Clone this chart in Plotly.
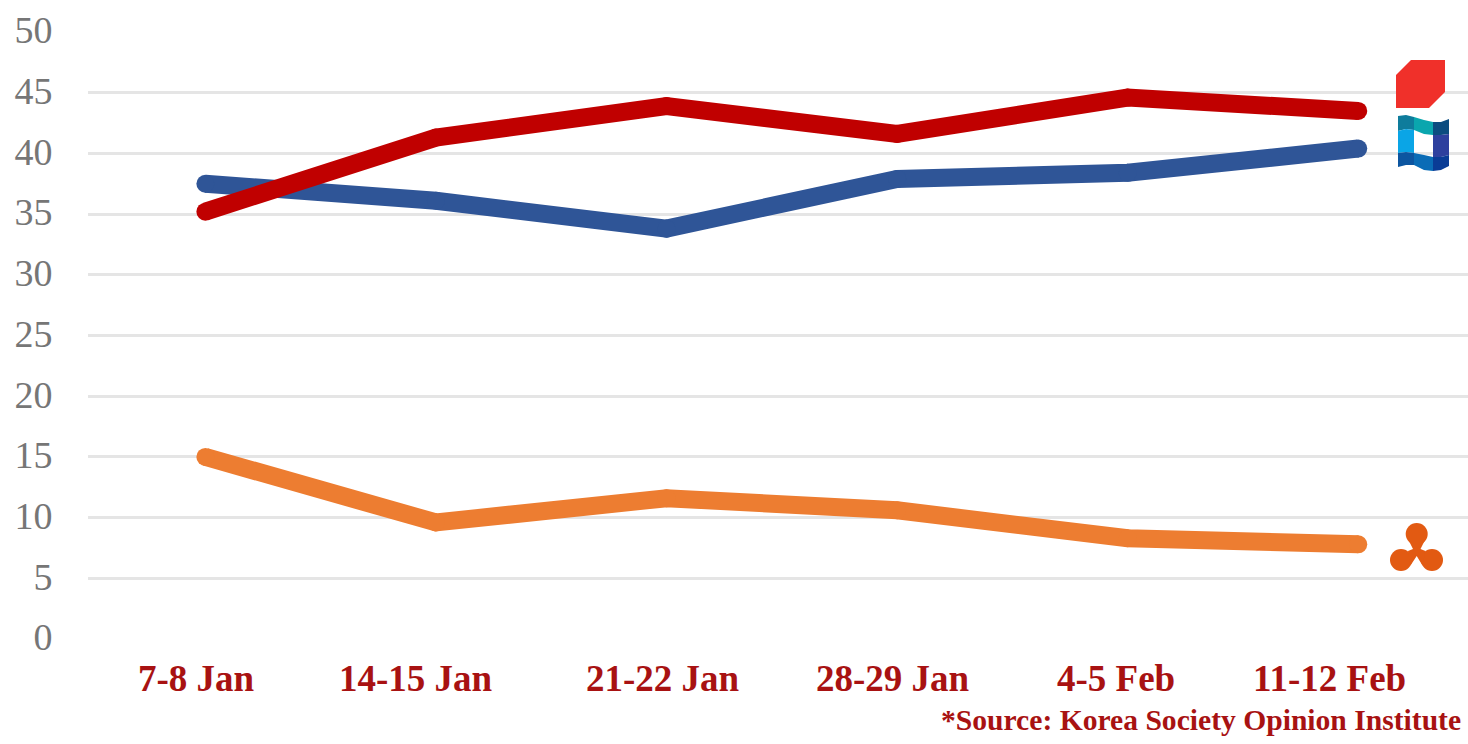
import plotly.graph_objects as go

categories = ["7-8 Jan", "14-15 Jan", "21-22 Jan", "28-29 Jan", "4-5 Feb", "11-12 Feb"]
red_values = [35.2, 41.3, 43.9, 41.6, 44.6, 43.5]
blue_values = [37.5, 36.1, 33.8, 37.9, 38.4, 40.4]
orange_values = [15.0, 9.6, 11.6, 10.6, 8.3, 7.8]
y_ticks = [0, 5, 10, 15, 20, 25, 30, 35, 40, 45, 50]
source_text = "*Source: Korea Society Opinion Institute"
label_centers_px = [196, 416, 663, 893, 1116, 1329]

W, H = 1468, 744
L, R, T, B = 88, 0, 32, 105
SERIF = "Liberation Serif"
LABEL = "#A81212"


def px(x):
    return (x - L) / (W - L - R)


def py(y):
    return 1 - (y - T) / (H - T - B)


def path(points, close=True):
    s = "M" + " L".join(f"{px(a):.5f},{py(b):.5f}" for a, b in points)
    return s + (" Z" if close else "")


def poly(points, color):
    return dict(type="path", xref="paper", yref="paper", path=path(points),
                fillcolor=color, line=dict(width=0), layer="above")


def circle(cx, cy, r, color):
    return dict(type="circle", xref="paper", yref="paper", x0=px(cx - r), x1=px(cx + r),
                y0=py(cy + r), y1=py(cy - r), fillcolor=color, line=dict(width=0), layer="above")


fig = go.Figure()
for vals, col in [(blue_values, "#2F5597"), (orange_values, "#ED7D31"), (red_values, "#C00000")]:
    fig.add_trace(go.Scatter(x=categories, y=vals, mode="lines+markers", showlegend=False,
                             line=dict(color=col, width=18),
                             marker=dict(color=col, size=18, line=dict(width=0)),
                             cliponaxis=False))

shapes = []
# red party logo
shapes.append(poly([(1411, 60), (1445, 60), (1445, 92), (1429, 108), (1396, 108), (1396, 75)], "#F0302A"))
# blue party logo
shapes += [
    poly([(1398, 116), (1406, 115), (1414, 117), (1414, 130), (1406, 129), (1398, 131)], "#0E7C9C"),
    poly([(1414, 117), (1424, 120), (1433, 122), (1433, 135), (1424, 134), (1414, 130)], "#0AA6AE"),
    poly([(1433, 122), (1441, 122), (1449, 119), (1449, 134), (1441, 135), (1433, 135)], "#0B4C80"),
    poly([(1398, 131), (1406, 129), (1414, 130), (1414, 153), (1406, 152), (1398, 153)], "#0AA5E6"),
    poly([(1433, 135), (1441, 135), (1449, 134), (1449, 155), (1441, 157), (1433, 157)], "#2E409E"),
    poly([(1398, 153), (1406, 152), (1414, 153), (1414, 165), (1406, 165), (1398, 167)], "#0C55A0"),
    poly([(1414, 153), (1424, 155), (1433, 157), (1433, 171), (1424, 170), (1414, 165)], "#0A6CB6"),
    poly([(1433, 157), (1441, 157), (1449, 155), (1449, 166), (1441, 170), (1433, 171)], "#0A3C96"),
]
# orange party logo
ORANGE_LOGO = "#E25A12"
shapes += [
    circle(1416.7, 534, 11, ORANGE_LOGO),
    circle(1401, 560, 11, ORANGE_LOGO),
    circle(1432, 560, 11, ORANGE_LOGO),
    poly([(1409, 541), (1413, 549), (1408, 551), (1410.5, 565.5), (1416.7, 556), (1422.5, 565.5),
          (1425.5, 551), (1420.5, 549), (1424.5, 541)], ORANGE_LOGO),
]

annotations = [
    dict(x=px(c), y=py(678), xref="paper", yref="paper", text=f"<b>{t}</b>", showarrow=False,
         xanchor="center", yanchor="middle", font=dict(family=SERIF, size=37, color=LABEL))
    for t, c in zip(categories, label_centers_px)
]
annotations.append(dict(x=px(1463), y=py(720), xref="paper", yref="paper", text=f"<b>{source_text}</b>",
                        showarrow=False, xanchor="right", yanchor="middle",
                        font=dict(family=SERIF, size=29.6, color=LABEL)))

fig.update_layout(
    width=W, height=H, margin=dict(l=L, r=R, t=T, b=B),
    paper_bgcolor="white", plot_bgcolor="white",
    shapes=shapes, annotations=annotations,
    xaxis=dict(type="category", categoryorder="array", categoryarray=categories,
               range=[-0.509, 5.476], showticklabels=False, showgrid=False, zeroline=False,
               showline=False, ticks=""),
    yaxis=dict(range=[0, 50], tickvals=y_ticks, showgrid=True, gridcolor="#E5E5E5", gridwidth=2.5,
               zeroline=False, showline=False, ticks="outside", ticklen=27, ticklabelshift=-2,
               tickcolor="rgba(0,0,0,0)", tickfont=dict(family=SERIF, size=38, color="#767676")),
)

fig.write_html("out.html", config=dict(displayModeBar=False),
               post_script="document.body.style.margin='0';document.documentElement.style.overflow='hidden';")
